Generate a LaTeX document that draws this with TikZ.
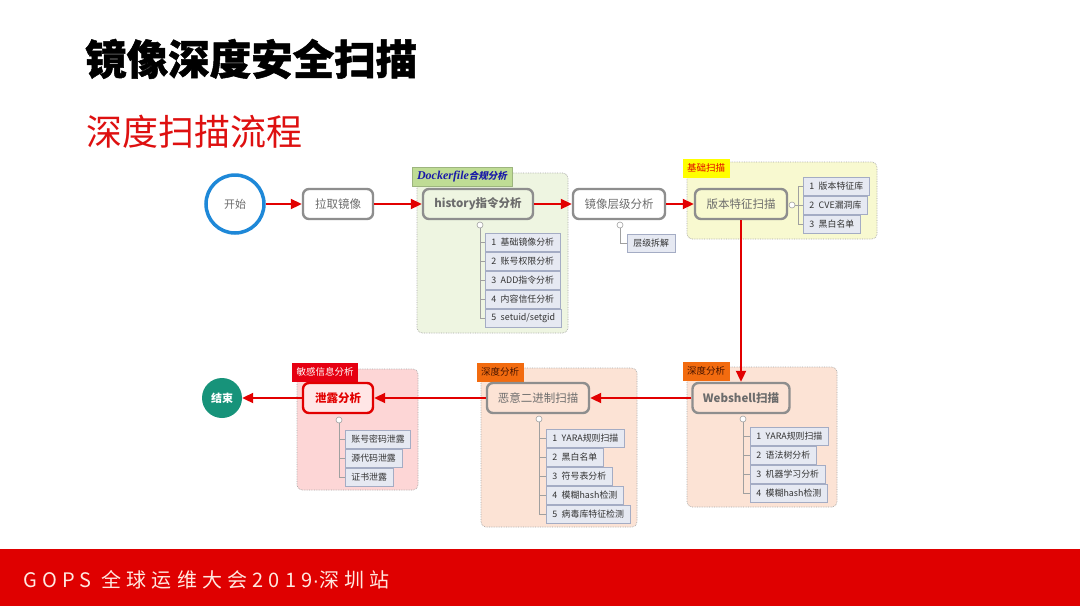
\documentclass[tikz,border=0pt]{standalone}
\usepackage{fontspec}
\setmainfont{Noto Sans CJK SC}
\newfontfamily\dockf{Liberation Serif}
\newfontfamily\slantf{Noto Sans CJK SC}[FakeSlant=0.2]
\newfontfamily\footf{Noto Sans CJK SC}[LetterSpace=26]
\newfontfamily\footdot{Liberation Sans}[LetterSpace=26]
\newfontfamily\titlef{Noto Sans CJK SC}[BoldFeatures={FakeBold=1.2}]
\usetikzlibrary{arrows.meta}
\definecolor{flowred}{HTML}{E20000}
\definecolor{boxgray}{HTML}{8E8E8E}
\definecolor{boxtext}{HTML}{6C6C6C}
\definecolor{itemdraw}{HTML}{A4ACC4}
\definecolor{itemfill}{HTML}{E6E9F2}
\definecolor{itemtext}{HTML}{333333}
\definecolor{treegray}{HTML}{A0A0A0}
\definecolor{grpborder}{HTML}{A8A8A8}
\definecolor{startblue}{HTML}{1E88D8}
\definecolor{endteal}{HTML}{17937A}
\definecolor{gfill}{HTML}{EEF5E1}
\definecolor{yfill}{HTML}{F8F9D0}
\definecolor{pfill}{HTML}{FCE3D5}
\definecolor{kfill}{HTML}{FDD6D6}
\definecolor{leakfill}{HTML}{FFE6E6}
\definecolor{dockgreen}{HTML}{BFDC95}
\definecolor{dockborder}{HTML}{9DB57E}
\definecolor{dockblue}{HTML}{1A1AA8}
\definecolor{tagyellow}{HTML}{FFFF00}
\definecolor{tagorange}{HTML}{F26B0F}
\definecolor{tagbrown}{HTML}{4A1500}
\definecolor{tagred}{HTML}{E60012}
\definecolor{footred}{HTML}{DF0000}
\definecolor{foottext}{HTML}{FFE8E0}
\definecolor{subred}{HTML}{DE1010}
\begin{document}
\begin{tikzpicture}[x=1pt,y=-1pt,
  mainbox/.style={draw=boxgray, line width=2.4pt, rounded corners=6pt, minimum height=30pt,
    text=boxtext, font=\fontsize{11.5}{12}\selectfont, inner sep=0pt},
  boldbox/.style={mainbox, font=\fontsize{11.5}{12}\selectfont\bfseries},
  item/.style={draw=itemdraw, fill=itemfill, line width=0.7pt, anchor=west, minimum height=18pt,
    inner xsep=6pt, inner ysep=0pt, font=\fontsize{8.9}{10}\selectfont, text=itemtext},
  knob/.style={circle, draw=treegray, fill=white, line width=0.6pt, minimum size=6pt, inner sep=0pt},
  tree/.style={draw=treegray, line width=0.7pt},
  flow/.style={draw=flowred, line width=2pt, -{Triangle[length=11pt,width=10pt]}},
  group/.style={draw=grpborder, densely dotted, line width=0.7pt, rounded corners=5pt},
  tagbox/.style={minimum height=19pt, inner xsep=3pt, inner ysep=0pt, font=\fontsize{9.5}{10}\selectfont}
]
\useasboundingbox (0,0) rectangle (1080,606);
\fill[white] (0,0) rectangle (1080,606);

% titles
\node[anchor=west, inner sep=0pt, font=\titlef\bfseries\fontsize{41.5}{44}\selectfont] (title) at (85,59) {镜像深度安全扫描};
\node[anchor=west, inner sep=0pt, text=subred, font=\fontsize{36}{40}\selectfont] (sub) at (86,132) {深度扫描流程};

% groups
\draw[group, fill=gfill] (417,173) rectangle (568,333);
\draw[group, fill=yfill] (687,162) rectangle (877,239);
\draw[group, fill=pfill] (687,367) rectangle (837,507);
\draw[group, fill=pfill] (481,368) rectangle (637,527);
\draw[group, fill=kfill] (297,369) rectangle (418,490);

% tags
\node[tagbox, fill=dockgreen, draw=dockborder, line width=0.5pt, minimum width=100pt, text=dockblue] (tdock) at (462,177)
  {{\dockf\bfseries\itshape\fontsize{12}{12}\selectfont Dockerfile}{\slantf\bfseries 合规分析}};
\node[tagbox, fill=tagyellow, minimum width=47pt, text=flowred] (tbase) at (706,168) {基础扫描};
\node[tagbox, fill=tagorange, minimum width=47pt, text=tagbrown] (tdeep1) at (706,371) {深度分析};
\node[tagbox, fill=tagorange, minimum width=47pt, text=tagbrown] (tdeep2) at (500,372) {深度分析};
\node[tagbox, fill=tagred, minimum width=66pt, text=white] (tsens) at (325,372) {敏感信息分析};

% main nodes
\node[circle, draw=startblue, line width=3.5pt, minimum size=58pt, inner sep=0pt, text=boxtext,
  font=\fontsize{11}{12}\selectfont] (start) at (235,204) {开始};
\node[mainbox, minimum width=70pt] (pull) at (338,204) {拉取镜像};
\node[boldbox, minimum width=110pt] (hist) at (478,204) {history指令分析};
\node[mainbox, minimum width=92pt] (layer) at (619,204) {镜像层级分析};
\node[mainbox, minimum width=92pt] (ver) at (741,204) {版本特征扫描};
\node[boldbox, minimum width=97pt] (web) at (741,398) {Webshell扫描};
\node[mainbox, minimum width=102pt] (mal) at (538,398) {恶意二进制扫描};
\node[boldbox, minimum width=70pt, draw=flowred, fill=leakfill, text=flowred] (leak) at (338,398) {泄露分析};
\node[circle, fill=endteal, minimum size=40pt, inner sep=0pt, text=white,
  font=\fontsize{11}{12}\selectfont\bfseries] (end) at (222,398) {结束};

% flow arrows
\draw[flow] (start) -- (pull);
\draw[flow] (pull) -- (hist);
\draw[flow] (hist) -- (layer);
\draw[flow] (layer) -- (ver);
\draw[flow] (ver) -- (web);
\draw[flow] (web) -- (mal);
\draw[flow] (mal) -- (leak);
\draw[flow] (leak) -- (end);

% history items
\node[item] (h1) at (485,242) {1\enspace 基础镜像分析};
\node[item] (h2) at (485,261) {2\enspace 账号权限分析};
\node[item] (h3) at (485,280) {3\enspace ADD指令分析};
\node[item] (h4) at (485,299) {4\enspace 内容信任分析};
\node[item] (h5) at (485,318) {5\enspace setuid/setgid};
\node[knob] (hk) at (480,225) {};
\foreach \i in {1,...,5} \draw[tree] (hk.south) |- (h\i.west);

% layer items
\node[item] (l1) at (627,243) {层级拆解};
\node[knob] (lk) at (620,225) {};
\draw[tree] (lk.south) |- (l1.west);

% version items
\node[item] (v1) at (803,186) {1\enspace 版本特征库};
\node[item] (v2) at (803,205) {2\enspace CVE漏洞库};
\node[item] (v3) at (803,224) {3\enspace 黑白名单};
\node[knob] (vk) at (792,205) {};
\coordinate (vj) at (798,205);
\draw[tree] (vk.east) -- (vj);
\foreach \i in {1,2,3} \draw[tree] (vj) |- (v\i.west);

% webshell items
\node[item] (w1) at (750,436) {1\enspace YARA规则扫描};
\node[item] (w2) at (750,455) {2\enspace 语法树分析};
\node[item] (w3) at (750,474) {3\enspace 机器学习分析};
\node[item] (w4) at (750,493) {4\enspace 模糊hash检测};
\node[knob] (wk) at (743,419) {};
\foreach \i in {1,...,4} \draw[tree] (wk.south) |- (w\i.west);

% malware items
\node[item] (m1) at (546,438) {1\enspace YARA规则扫描};
\node[item] (m2) at (546,457) {2\enspace 黑白名单};
\node[item] (m3) at (546,476) {3\enspace 符号表分析};
\node[item] (m4) at (546,495) {4\enspace 模糊hash检测};
\node[item] (m5) at (546,514) {5\enspace 病毒库特征检测};
\node[knob] (mk) at (539,419) {};
\foreach \i in {1,...,5} \draw[tree] (mk.south) |- (m\i.west);

% leak items
\node[item] (s1) at (345,439) {账号密码泄露};
\node[item] (s2) at (345,458) {源代码泄露};
\node[item] (s3) at (345,477) {证书泄露};
\node[knob] (sk) at (339,420) {};
\foreach \i in {1,2,3} \draw[tree] (sk.south) |- (s\i.west);

% footer
\fill[footred] (0,549) rectangle (1080,606);
\node[anchor=west, inner sep=0pt, text=foottext, font=\footf\fontsize{20}{22}\selectfont] (foot) at (23,580)
  {GOPS 全球运维大会2019{\footdot·}深圳站};
\end{tikzpicture}
\end{document}
